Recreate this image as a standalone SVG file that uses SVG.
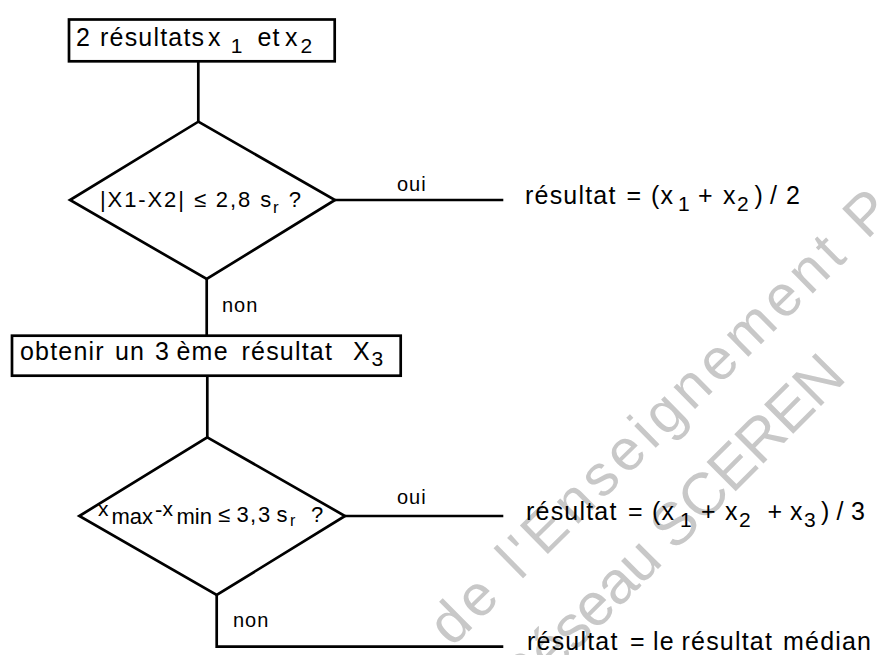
<svg xmlns="http://www.w3.org/2000/svg" width="881" height="655" viewBox="0 0 881 655">
<style>
  .wm { font-family: "Liberation Sans", Arial, sans-serif; fill: #c8c8c8; }
  .shape { fill: none; stroke: #000; stroke-width: 2.7; stroke-linejoin: miter; }
  .conn { fill: none; stroke: #000; stroke-width: 2.7; }
  .big { font-family: "Liberation Sans", Arial, Helvetica, sans-serif; font-size: 25px; letter-spacing: 1.2px; fill: #000; }
  .dt { font-family: "Liberation Sans", Arial, Helvetica, sans-serif; font-size: 22px; fill: #000; }
  .lbl { font-family: "Liberation Sans", Arial, Helvetica, sans-serif; font-size: 20px; letter-spacing: 1px; fill: #000; }
  .sub { font-size: 21px; }
</style>
<rect width="881" height="655" fill="#fff"/>
<g id="watermark">
  <text class="wm" font-size="58" letter-spacing="5" transform="translate(452,648) rotate(-44.5)">de l'Enseignement P</text>
  <text class="wm" font-size="60" letter-spacing="-1" transform="translate(521.7,705.3) rotate(-45)">Réseau SCEREN</text>
</g>
<g id="connectors">
  <path class="conn" d="M198.3 61.3 V121.7"/>
  <path class="conn" d="M206.7 279 V335.7"/>
  <path class="conn" d="M335 200 H503.3"/>
  <path class="conn" d="M207.3 375.7 V437.3"/>
  <path class="conn" d="M345 516 H503.3"/>
  <path class="conn" d="M216.7 595 V646.7 H503.3"/>
  <text class="lbl" x="397" y="190.7">oui</text>
  <text class="lbl" x="222" y="311.7">non</text>
  <text class="lbl" x="397" y="504">oui</text>
  <text class="lbl" x="233" y="626.7">non</text>
</g>
<g id="start">
  <rect class="shape" x="69" y="19.5" width="265.7" height="41.8"/>
  <text class="big" font-size="24" letter-spacing="0.6" y="45.7"><tspan x="76">2</tspan> <tspan x="100">résultats</tspan> <tspan x="208">x</tspan><tspan class="sub" x="230.7" y="53.3">1</tspan> <tspan x="257.5" y="45.7">et</tspan> <tspan x="285">x</tspan><tspan class="sub" x="300.5" y="53">2</tspan></text>
</g>
<g id="decision1">
  <polygon class="shape" points="198.3,121.7 335,200 206.7,279 70,200"/>
  <text class="dt" x="100" y="206.7" letter-spacing="1.9">|X1-X2| ≤ 2,8 s<tspan font-size="17" y="212.5">r</tspan><tspan y="206.7"> ?</tspan></text>
</g>
<g id="result1">
  <text class="big" y="204"><tspan x="525">résultat</tspan> <tspan x="626.5">=</tspan> <tspan x="651">(x</tspan><tspan class="sub" x="678" y="211">1</tspan> <tspan x="698" y="204">+</tspan> <tspan x="723">x</tspan><tspan class="sub" x="737" y="211">2</tspan><tspan x="754.5" y="204">)</tspan> <tspan x="770">/</tspan> <tspan x="786">2</tspan></text>
</g>
<g id="step3">
  <rect class="shape" x="12" y="335.7" width="388.7" height="40"/>
  <text class="big" y="360"><tspan x="20">obtenir</tspan> <tspan x="115">un</tspan> <tspan x="155">3</tspan> <tspan x="176.5">ème</tspan> <tspan x="241.5">résultat</tspan>  <tspan x="353">X</tspan><tspan class="sub" x="371.5" y="366">3</tspan></text>
</g>
<g id="decision2">
  <polygon class="shape" points="207.3,437.3 345,516 216.7,595 79.3,516"/>
  <text class="dt" font-size="20"><tspan x="98" y="515.5" font-size="21">x</tspan><tspan x="111.5" y="523.5" font-size="22">max</tspan><tspan x="155" y="517">-</tspan><tspan x="162.5" y="515.5" font-size="21">x</tspan><tspan x="176.5" y="523.5" font-size="22">min</tspan> <tspan x="218" y="521.7">≤</tspan> <tspan x="236.5">3</tspan><tspan x="250">,</tspan><tspan x="258">3</tspan> <tspan x="276.5">s</tspan><tspan x="290" y="526" font-size="16">r</tspan> <tspan x="311" y="521.7">?</tspan></text>
</g>
<g id="result2">
  <text class="big" y="520"><tspan x="526">résultat</tspan> <tspan x="628">=</tspan> <tspan x="652">(x</tspan><tspan class="sub" x="680" y="527">1</tspan> <tspan x="701" y="520">+</tspan> <tspan x="725">x</tspan><tspan class="sub" x="739" y="527">2</tspan> <tspan x="767.5" y="520">+</tspan> <tspan x="790">x</tspan><tspan class="sub" x="804" y="527">3</tspan><tspan x="821" y="520">)</tspan> <tspan x="836.5">/</tspan> <tspan x="851">3</tspan></text>
</g>
<g id="result3">
  <text class="big" y="650"><tspan x="527">résultat</tspan> <tspan x="630">=</tspan> <tspan x="653">le</tspan> <tspan x="681.5">résultat</tspan> <tspan x="783">médian</tspan></text>
</g>
</svg>
